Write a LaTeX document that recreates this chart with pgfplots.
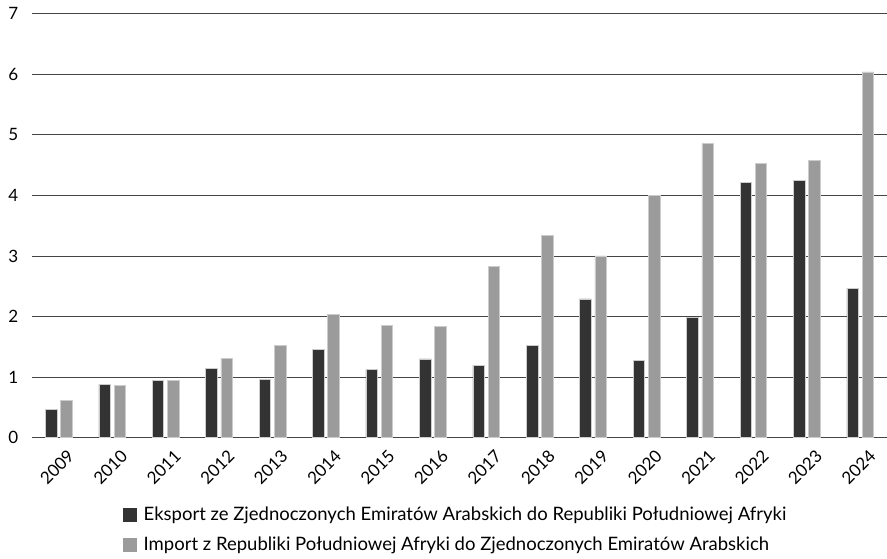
\documentclass[border=0pt]{standalone}
\usepackage{pgfplots}
\pgfplotsset{compat=1.18}
\usepackage{fontspec}
\setmainfont{Lato}
\definecolor{darkbar}{HTML}{333333}
\definecolor{greybar}{HTML}{9B9B9B}
\definecolor{gridc}{HTML}{454545}
\begin{document}
\fontsize{17bp}{20bp}\selectfont
\begin{tikzpicture}
\path[use as bounding box] (-32bp,-121.3bp) rectangle (855bp,437.7bp);
\begin{axis}[
  at={(0,0)}, anchor=south west,
  scale only axis, width=855bp, height=424bp,
  xmin=-0.5, xmax=15.5, ymin=0, ymax=7,
  ybar, bar width=11.5bp,
  axis line style={draw=none},
  major tick length=0,
  ymajorgrids, major grid style={draw=gridc, line width=0.9bp},
  ytick={0,1,...,7},
  xtick={0,...,15},
  xticklabels={2009,2010,2011,2012,2013,2014,2015,2016,2017,2018,2019,2020,2021,2022,2023,2024},
  xticklabel style={rotate=45, anchor=north east, inner sep=0bp, xshift=-2bp, yshift=-13bp},
  yticklabel style={xshift=-8bp},
  /pgf/number format/assume math mode=true,
  ticklabel style={font=\fontsize{17bp}{19bp}\selectfont},
  legend style={at={(0.1064,-0.158)}, anchor=north west, draw=none, fill=none,
    inner sep=0pt, row sep=10bp, font=\fontsize{18.5bp}{21bp}\selectfont,
    nodes={inner xsep=6.5bp}},
  legend cell align=left,
  legend image code/.code={\fill[#1, draw=none] (0bp,-7bp) rectangle (14bp,7bp);},
]
\addplot[fill=darkbar, draw=white!80!black, line width=0.6bp, bar shift=-7.6bp] coordinates {
(0,0.47) (1,0.88) (2,0.95) (3,1.14) (4,0.96) (5,1.46) (6,1.13) (7,1.30)
(8,1.20) (9,1.53) (10,2.29) (11,1.27) (12,1.98) (13,4.22) (14,4.25) (15,2.47)};
\addlegendentry{Eksport ze Zjednoczonych Emiratów Arabskich do Republiki Południowej Afryki}
\addplot[fill=greybar, draw=white!80!black, line width=0.6bp, bar shift=7.6bp] coordinates {
(0,0.61) (1,0.87) (2,0.95) (3,1.31) (4,1.53) (5,2.04) (6,1.85) (7,1.84)
(8,2.83) (9,3.34) (10,3.00) (11,4.00) (12,4.86) (13,4.53) (14,4.58) (15,6.04)};
\addlegendentry{Import z Republiki Południowej Afryki do Zjednoczonych Emiratów Arabskich}
\end{axis}
\end{tikzpicture}
\end{document}
